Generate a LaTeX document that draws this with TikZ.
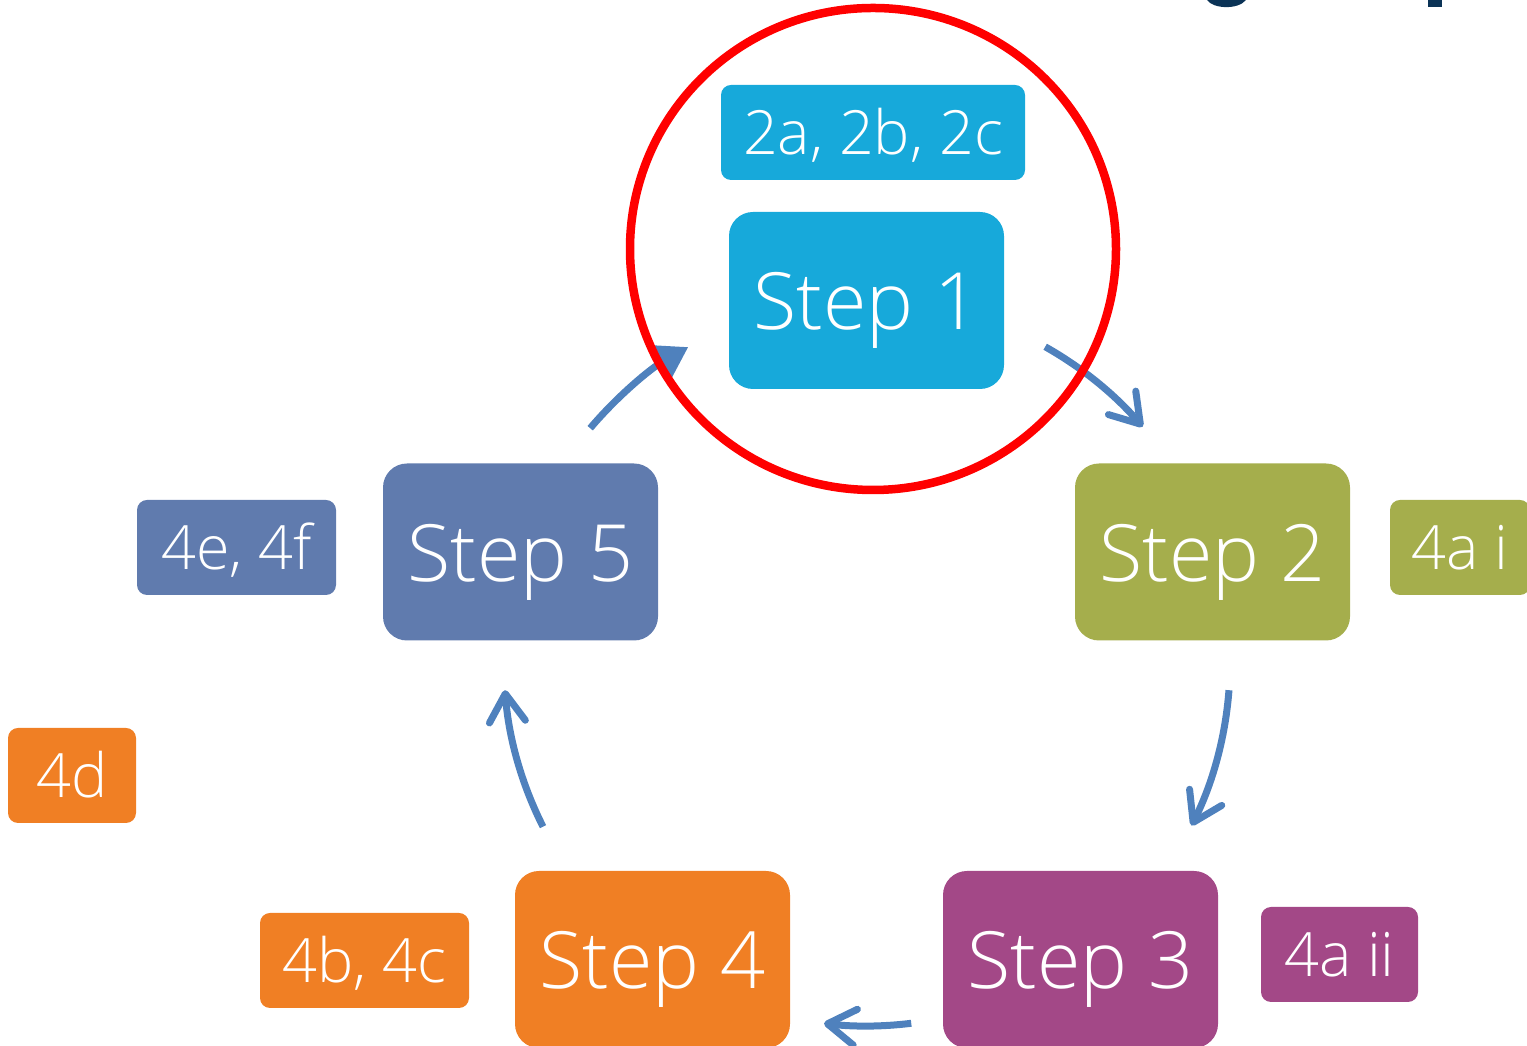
\documentclass[tikz,border=0pt]{standalone}
\usepackage{fontspec}
\setmainfont{Open Sans}[UprightFont=* Light]
\usetikzlibrary{arrows.meta, shapes.geometric}
\usepackage{xcolor}
\definecolor{stepcyan}{HTML}{17A9DA}
\definecolor{stepolive}{HTML}{A5AE4C}
\definecolor{steppurple}{HTML}{A34887}
\definecolor{steporange}{HTML}{F07F24}
\definecolor{stepslate}{HTML}{607BAE}
\definecolor{cycleblue}{HTML}{4F81BD}
\definecolor{titleblue}{HTML}{0B3356}

\begin{document}
\begin{tikzpicture}[
        x=1pt, y=1pt,
        stepbox/.style={fill=#1, rounded corners=24pt, minimum width=275pt, minimum height=177pt,
                        text=white, inner sep=0pt, font=\fontsize{79}{95}\selectfont, text height=59pt, text depth=0pt},
        tag/.style={fill=#1, rounded corners=10pt, minimum height=95pt,
                    text=white, inner sep=0pt, font=\fontsize{61}{73}\selectfont, text height=45pt, text depth=0pt},
        cyc/.style={draw=cycleblue, line width=7pt},
        chev/.style={-{Straight Barb[length=28pt, width=36pt, round]}},
        tri/.style={-{Triangle[length=30pt, width=36pt]}}
      ]
        \useasboundingbox (0,0) rectangle (1527,1046);
        \clip (0,0) rectangle (1527,1046);

        % cut-off title at the top
        \fill[titleblue] (1207,1046) .. controls (1213,1037) and (1238,1036) .. (1246,1046) -- cycle;
        \fill[titleblue] (1428,1039) rectangle (1442,1046);

        % steps
        \node[stepbox=stepcyan] (s1) at (866.5,745.5) {Step 1};
        \node[stepbox=stepolive] (s2) at (1212.5,494) {Step 2};
        \node[stepbox=steppurple] (s3) at (1080.5,86.5) {Step 3};
        \node[stepbox=steporange] (s4) at (652.5,86.5) {Step 4};
        \node[stepbox=stepslate] (s5) at (520.5,494) {Step 5};

        % sub-steps
        \node[tag=stepcyan, minimum width=304pt] (t2abc) at (873,913.5) {2a, 2b, 2c};
        \node[tag=stepolive, minimum width=140pt] (t4ai) at (1460,498.5) {4a i};
        \node[tag=steppurple, minimum width=157pt] (t4aii) at (1339.5,91.5) {4a ii};
        \node[tag=steporange, minimum width=209pt] (t4bc) at (364.5,85.5) {4b, 4c};
        \node[tag=steporange, minimum width=128pt] (t4d) at (72,270.5) {4d};
        \node[tag=stepslate, minimum width=199pt] (t4ef) at (236.5,498.5) {4e, 4f};

        % cycle arrows
        \coordinate (mid) at (867,383);
        \draw[cyc, tri] ([shift={(139.7:363)}]mid) arc[start angle=139.7, end angle=119.5, radius=363];
        \draw[cyc, chev] ([shift={(60.6:363)}]mid) arc[start angle=60.6, end angle=40.6, radius=363];
        \draw[cyc, chev] ([shift={(-4.3:363)}]mid) arc[start angle=-4.3, end angle=-26.6, radius=363];
        \draw[cyc, chev] ([shift={(-83:363)}]mid) arc[start angle=-83, end angle=-96.8, radius=363];
        \draw[cyc, chev] ([shift={(206.8:363)}]mid) arc[start angle=206.8, end angle=184.3, radius=363];

        % highlight
        \node[draw=red, line width=8.5pt, ellipse, minimum width=486pt, minimum height=482pt, inner sep=0pt] (ring) at (873,797) {};
    \end{tikzpicture}
\end{document}
